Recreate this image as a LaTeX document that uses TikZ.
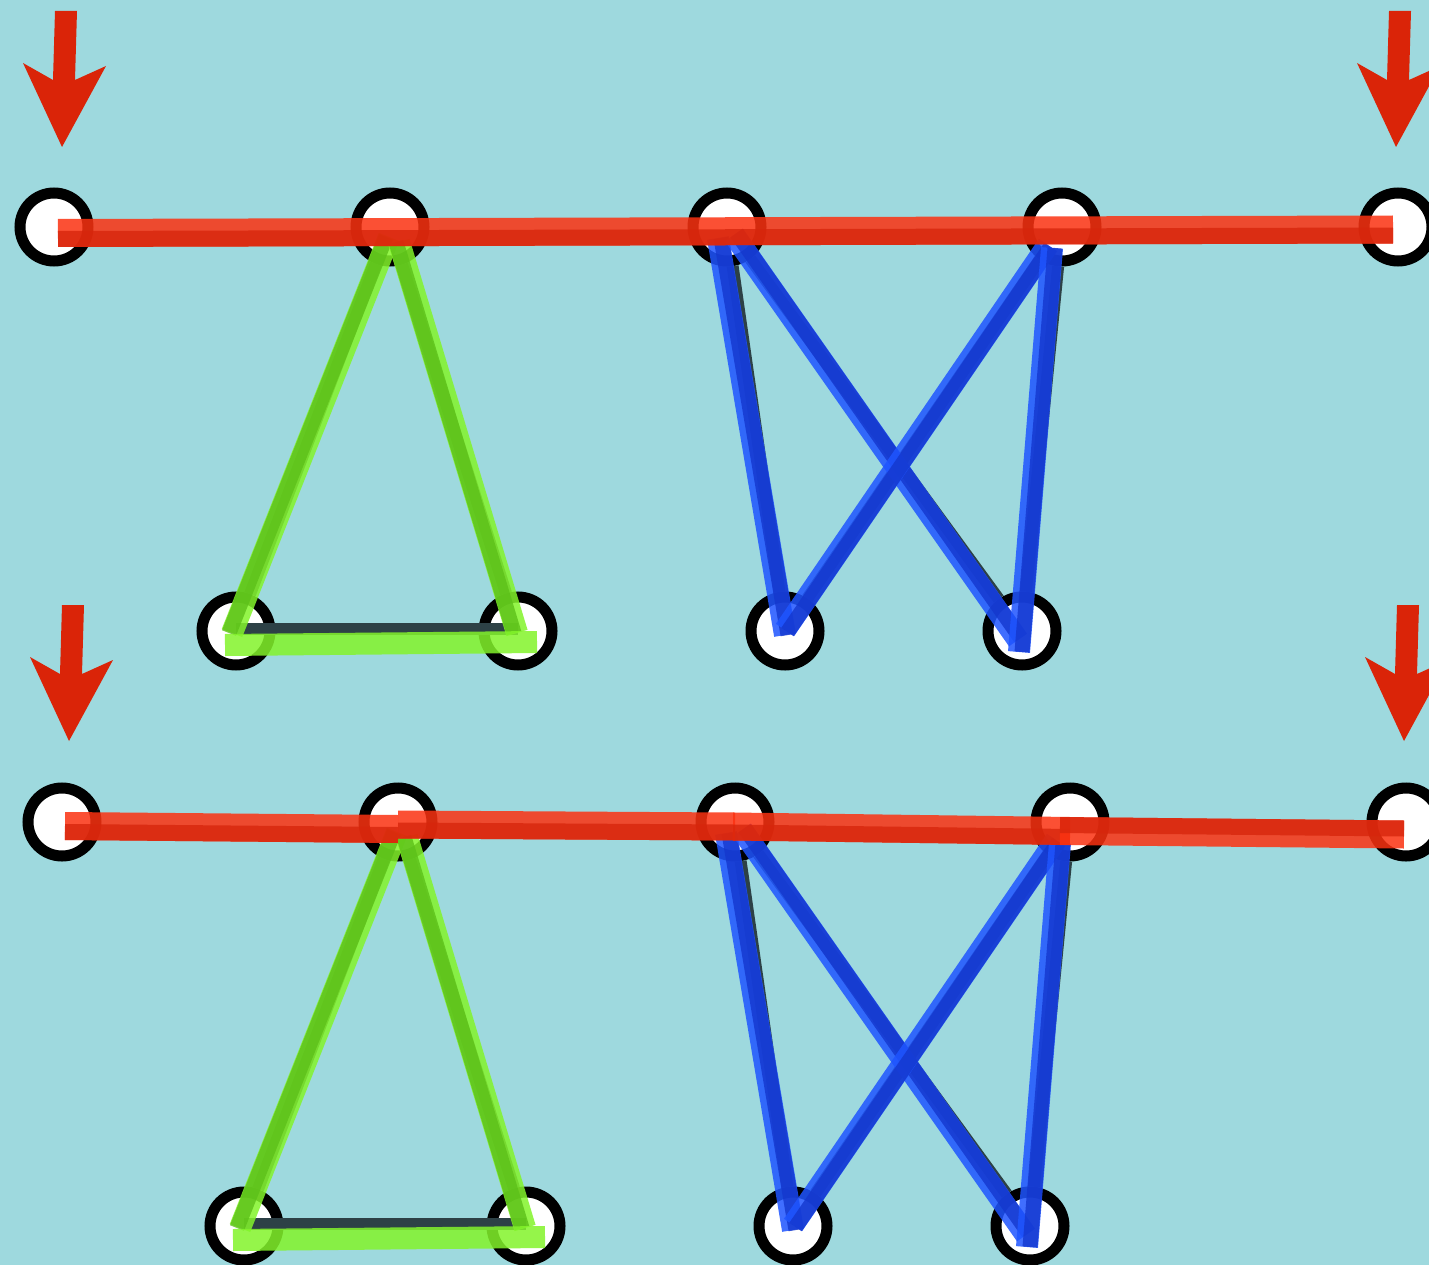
\documentclass[tikz,border=0pt]{standalone}
\usetikzlibrary{calc}
\definecolor{bgc}{RGB}{158,217,222}
\definecolor{redL}{RGB}{251,50,17}
\definecolor{redD}{RGB}{215,38,12}
\definecolor{grnL}{RGB}{131,244,43}
\definecolor{grnD}{RGB}{92,192,25}
\definecolor{bluL}{RGB}{31,85,255}
\definecolor{bluD}{RGB}{20,55,205}
\definecolor{edgec}{RGB}{45,65,70}
\definecolor{arrc}{RGB}{218,36,8}

% highlight stroke: #1 light style, #2 dark style, #3/#4 shift of dark stroke, #5 from, #6 to
\newcommand\hlstroke[6]{%
  \draw[#1] #5 -- #6;
  \draw[#2, transform canvas={shift={(#3,#4)}}] #5 -- #6;
}
\newcommand\redarrow[2]{%
  \fill[arrowshape, shift={(#1,#2)}] (0,0) -- (-39,-84) -- (-9,-67) -- (-7,-136)
     -- (15,-136) -- (13,-67) -- (44,-81) -- cycle;
}
% #1 prefix, #2 dx, #3 dy
\newcommand\drawgroup[3]{%
  \begin{scope}[shift={(#2,#3)}]
    \node[vtx] (#1a1) at (54,227) {};
    \node[vtx] (#1a2) at (390,227) {};
    \node[vtx] (#1a3) at (727,227) {};
    \node[vtx] (#1a4) at (1062,227) {};
    \node[vtx] (#1a5) at (1398,227) {};
    \node[vtx] (#1b1) at (236,631) {};
    \node[vtx] (#1b2) at (518,631) {};
    \node[vtx] (#1b3) at (785,631) {};
    \node[vtx] (#1b4) at (1022,631) {};
  \end{scope}
  \draw[darkedge] (#1a2) -- (#1b1);
  \draw[darkedge] (#1a2) -- (#1b2);
  \draw[darkedge] ($(#1b1)+(0,-2)$) -- ($(#1b2)+(0,-2)$);
  \draw[darkedge] (#1a3) -- (#1b3);
  \draw[darkedge] (#1a3) -- (#1b4);
  \draw[darkedge] (#1a4) -- (#1b3);
  \draw[darkedge] (#1a4) -- (#1b4);
  % green triangle
  \hlstroke{gL}{gD}{-3}{0}{($(#1a2)+(-1,10)$)}{($(#1b1)+(-4,2)$)}
  \hlstroke{gL}{gD}{-3}{0}{($(#1a2)+(9,15)$)}{($(#1b2)+(-1,2)$)}
  \draw[gL] ($(#1b1)+(-11,14)$) -- ($(#1b2)+(19,11)$);
  % blue W
  \hlstroke{bL}{bD}{3}{0}{($(#1a3)+(-9,11)$)}{($(#1b3)+(0,4)$)}
  \hlstroke{bL}{bD}{2.5}{-2}{($(#1a3)+(7,8)$)}{($(#1b4)+(-4,9)$)}
  \hlstroke{bL}{bD}{2.5}{2}{($(#1a4)+(-14,18)$)}{($(#1b3)+(0,-1)$)}
  \hlstroke{bL}{bD}{3}{0}{($(#1a4)+(-10,21)$)}{($(#1b4)+(-3,21)$)}
}

\begin{document}
\begin{tikzpicture}[x=1pt,y=-1pt,
  vtx/.style={circle, draw=black, fill=white, line width=11pt, minimum size=68pt, inner sep=0pt},
  darkedge/.style={draw=edgec, line width=12pt},
  rL/.style={draw=redL, line width=28pt, opacity=0.85},
  rD/.style={draw=redD, line width=16pt, opacity=0.8},
  gL/.style={draw=grnL, line width=22pt, opacity=0.85},
  gD/.style={draw=grnD, line width=15pt, opacity=0.8},
  bL/.style={draw=bluL, line width=22pt, opacity=0.85},
  bD/.style={draw=bluD, line width=15pt, opacity=0.8},
  arrowshape/.style={fill=arrc}]
\fill[bgc] (0,0) rectangle (1429,1265);
\useasboundingbox (0,0) rectangle (1429,1265);

\drawgroup{t}{0}{0}
\drawgroup{b}{8}{595}

% red paths
\hlstroke{rL}{rD}{0}{6}{($(ta1)+(4,6)$)}{($(ta5)+(-5,2.5)$)}
\hlstroke{rL}{rD}{0}{6}{($(ba1)+(3,4)$)}{($(ba2)+(0,7)$)}
\hlstroke{rL}{rD}{0}{6}{($(ba2)+(0,2.5)$)}{($(ba3)+(0,4.5)$)}
\hlstroke{rL}{rD}{0}{6}{($(ba3)+(-2,4.5)$)}{($(ba4)+(0,9)$)}
\hlstroke{rL}{rD}{0}{-6}{($(ba4)+(-10,9)$)}{($(ba5)+(-2,12.5)$)}

% red arrows
\redarrow{62}{147}
\redarrow{1396}{147}
\redarrow{69}{741}
\redarrow{1404}{741}
\end{tikzpicture}
\end{document}
